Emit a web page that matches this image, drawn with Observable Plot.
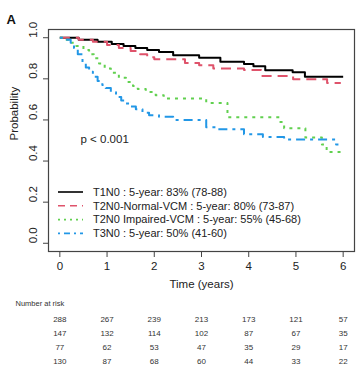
<!DOCTYPE html>
<html><head><meta charset="utf-8">
<script src="https://cdn.jsdelivr.net/npm/d3@7"></script>
<script src="https://cdn.jsdelivr.net/npm/@observablehq/plot@0.6"></script>
<style>
body{margin:0;background:#fff;font-family:"Liberation Sans",Arial,sans-serif}
#wrap{position:relative;width:361px;height:381px}
</style></head><body><div id="wrap"></div>
<script>
const groups = ["T1N0", "T2N0-Normal-VCM", "T2N0 Impaired-VCM", "T3N0"];
const legendLabels = [
  "T1N0 : 5-year: 83% (78-88)",
  "T2N0-Normal-VCM : 5-year: 80% (73-87)",
  "T2N0 Impaired-VCM : 5-year: 55% (45-68)",
  "T3N0 : 5-year: 50% (41-60)"
];
const colors = ["#000000", "#DF536B", "#61D04F", "#2297E6"];
const dashes = [null, "10,6", "3,5", "3,5,9,5"];

// Kaplan-Meier step curves (time in years, survival probability)
const t1n0Time = [0, 0.4, 0.8, 1.1, 1.35, 1.6, 1.85, 2.1, 2.4, 2.95, 3.4, 3.9, 4.1, 4.35, 4.93, 5.19, 6.0];
const t1n0Surv = [1.0, 0.99, 0.98, 0.97, 0.96, 0.95, 0.94, 0.93, 0.915, 0.903, 0.883, 0.872, 0.861, 0.842, 0.832, 0.81, 0.81];
const t2n0NormTime = [0, 0.4, 0.7, 1.0, 1.25, 1.5, 1.7, 1.85, 2.0, 2.65, 2.95, 3.25, 3.9, 4.26, 4.94, 5.66, 5.95];
const t2n0NormSurv = [1.0, 0.99, 0.98, 0.965, 0.95, 0.935, 0.92, 0.905, 0.895, 0.877, 0.866, 0.85, 0.843, 0.814, 0.798, 0.78, 0.78];
const t2n0ImpTime = [0, 0.1, 0.25, 0.35, 0.5, 0.62, 0.72, 0.83, 0.95, 1.08, 1.25, 1.4, 1.55, 1.65, 1.82, 2.03, 2.2, 3.1, 3.55, 4.65, 4.75, 5.2, 5.55, 5.65, 6.0];
const t2n0ImpSurv = [1.0, 0.99, 0.975, 0.96, 0.94, 0.92, 0.9, 0.875, 0.85, 0.83, 0.805, 0.785, 0.765, 0.75, 0.736, 0.72, 0.704, 0.683, 0.613, 0.59, 0.56, 0.515, 0.48, 0.444, 0.444];
const t3n0Time = [0, 0.15, 0.23, 0.3, 0.38, 0.48, 0.55, 0.62, 0.7, 0.8, 0.9, 0.97, 1.08, 1.19, 1.3, 1.4, 1.5, 1.61, 1.75, 1.89, 2.1, 2.4, 3.1, 3.3, 3.9, 4.3, 4.75, 5.85, 5.9];
const t3n0Surv = [1.0, 0.99, 0.975, 0.95, 0.92, 0.88, 0.855, 0.835, 0.81, 0.79, 0.77, 0.755, 0.735, 0.712, 0.695, 0.68, 0.665, 0.652, 0.635, 0.623, 0.615, 0.6, 0.565, 0.555, 0.53, 0.517, 0.505, 0.48, 0.48];

const riskTimes = [0, 1, 2, 3, 4, 5, 6];
const riskT1N0 = [288, 267, 239, 213, 173, 121, 57];
const riskT2N0Normal = [147, 132, 114, 102, 87, 67, 35];
const riskT2N0Impaired = [77, 62, 53, 47, 35, 29, 17];
const riskT3N0 = [130, 87, 68, 60, 44, 33, 22];

const xTicks = [0, 1, 2, 3, 4, 5, 6];
const yTicks = [0, 0.2, 0.4, 0.6, 0.8, 1.0];

const curves = [
  [t1n0Time, t1n0Surv],
  [t2n0NormTime, t2n0NormSurv],
  [t2n0ImpTime, t2n0ImpSurv],
  [t3n0Time, t3n0Surv]
].map(([ts, ss], i) => ts.map((t, j) => ({t, s: ss[j], g: groups[i]})));

const riskRows = [riskT1N0, riskT2N0Normal, riskT2N0Impaired, riskT3N0];

const font = "Liberation Sans, Arial, sans-serif";
const lineMarks = curves.map((rows, i) => Plot.line(rows, {
  x: "t", y: "s", curve: "step-after",
  stroke: colors[i], strokeWidth: 2,
  strokeDasharray: dashes[i] || undefined,
  strokeLinecap: "butt"
}));
const riskMarks = riskRows.map((row, i) => Plot.text(row.map((n, j) => ({t: riskTimes[j], n})), {
  x: "t", text: "n", frameAnchor: "bottom", dy: 70 + 14 * i, fontSize: 8, fill: "#333"
}));

const chart = Plot.plot({
  width: 361, height: 381,
  marginTop: 29, marginBottom: 130, marginLeft: 48, marginRight: 7,
  style: {fontFamily: font, background: "#fff", color: "#222"},
  x: {domain: [-0.24, 6.24]},
  y: {domain: [-0.04, 1.04]},
  marks: [
    ...lineMarks,
    Plot.frame({stroke: "#444", strokeWidth: 1.2}),
    Plot.axisX(xTicks, {tickSize: 6, tickPadding: 4, fontSize: 11.5, label: null, tickFormat: d => String(d), stroke: "#444"}),
    Plot.axisY(yTicks, {tickSize: 5, tickFormat: () => "", label: null, stroke: "#444"}),
    Plot.text(yTicks, {y: d => d, text: d => d.toFixed(1), frameAnchor: "left", dx: -15, rotate: -90, fontSize: 11.5, fill: "#222"}),
    Plot.text(["Probability"], {frameAnchor: "left", dx: -34, rotate: -90, fontSize: 11.5, fill: "#222"}),
    Plot.text(["A"], {frameAnchor: "top-left", dx: -42, dy: -15, textAnchor: "start", fontWeight: "bold", fontSize: 13, fill: "#111"}),
    Plot.text(["p < 0.001"], {frameAnchor: "left", dx: 32, dy: -1, textAnchor: "start", fontSize: 11.5, fill: "#222"}),
    Plot.text(["Time (years)"], {frameAnchor: "bottom", dy: 36, fontSize: 11.5, fill: "#222"}),
    Plot.text(["Number at risk"], {frameAnchor: "bottom-left", dx: -33, dy: 54, textAnchor: "start", fontSize: 7.5, fill: "#333"}),
    ...riskMarks
  ]
});
document.getElementById("wrap").appendChild(chart);

// Legend (drawn into the chart's SVG)
const svg = d3.select(chart);
const lg = svg.append("g").attr("font-family", font).attr("font-size", 11).attr("text-anchor", "start");
legendLabels.forEach((label, i) => {
  const y = 192 + i * 13.8;
  lg.append("line").attr("x1", 58).attr("x2", 83).attr("y1", y).attr("y2", y)
    .attr("stroke", colors[i]).attr("stroke-width", 1.6)
    .attr("stroke-dasharray", dashes[i] ? (i === 1 ? "7,5" : i === 2 ? "2,4" : "2,4,6,4") : null);
  lg.append("text").attr("x", 93).attr("y", y).attr("dy", "0.35em").attr("text-anchor", "start").attr("fill", "#222").text(label);
});
</script></body></html>
